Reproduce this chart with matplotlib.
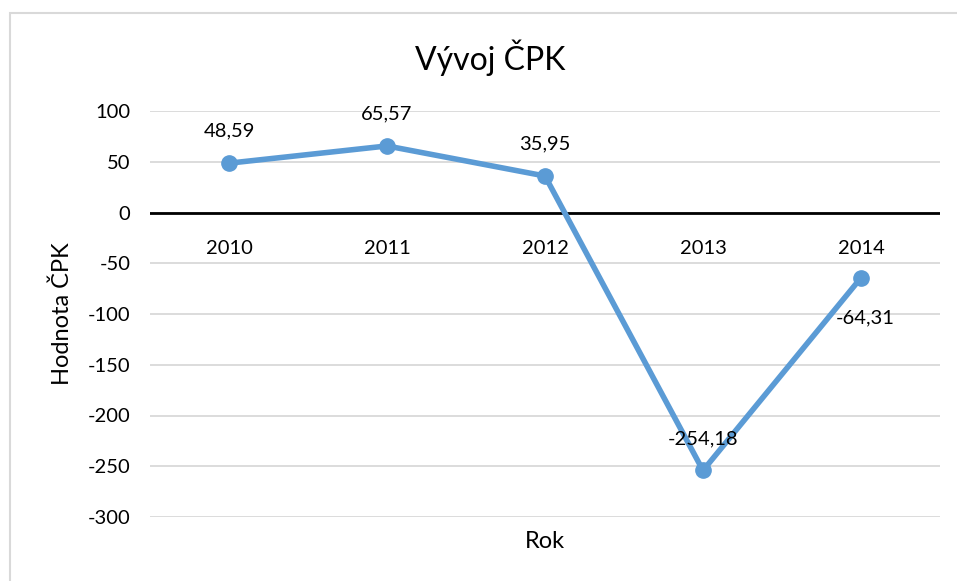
import matplotlib.pyplot as plt
from matplotlib.patches import Rectangle

# data
roky = ["2010", "2011", "2012", "2013", "2014"]
cpk = [48.59, 65.57, 35.95, -254.18, -64.31]
popisky = ["48,59", "65,57", "35,95", "-254,18", "-64,31"]
yticks = [100, 50, 0, -50, -100, -150, -200, -250, -300]

plt.rcParams["font.family"] = ["Lato", "DejaVu Sans"]

fig = plt.figure(figsize=(9.57, 5.81), dpi=100)
W, H = 957, 581
ax = fig.add_axes([150 / W, 1 - 517 / H, 790 / W, 406 / H])

# chart border
fig.patches.append(Rectangle((10 / W, -0.1), 1.1, 1 - 13 / H + 0.1,
                             transform=fig.transFigure, fill=False,
                             edgecolor="#d9d9d9", linewidth=1.5))

x = list(range(len(roky)))
ax.plot(x, cpk, color="#5b9bd5", linewidth=4, marker="o", markersize=11,
        zorder=3)

ax.set_xlim(-0.5, len(roky) - 0.5)
ax.set_ylim(-300, 100)
ax.set_yticks(yticks)
ax.set_yticklabels([str(v) for v in yticks], fontsize=14.5)
ax.tick_params(axis="y", length=0, pad=14)
ax.set_xticks([])
ax.grid(axis="y", color="#d9d9d9", linewidth=1.3)
ax.set_axisbelow(True)
for s in ax.spines.values():
    s.set_visible(False)
ax.axhline(0, color="black", linewidth=2, zorder=2)

# category labels under the zero line
for i, r in enumerate(roky):
    ax.annotate(r, (i, 0), xytext=(0, -32), textcoords="offset points",
                ha="center", va="bottom", fontsize=14.5)

# data labels
for i, (v, t) in enumerate(zip(cpk, popisky)):
    if i == 4:
        ax.annotate(t, (i, v), xytext=(3, -29), textcoords="offset points",
                    ha="center", va="center", fontsize=14.5)
    else:
        ax.annotate(t, (i, v), xytext=(0, 17), textcoords="offset points",
                    ha="center", va="bottom", fontsize=14.5)

fig.text(490 / W, 1 - 58 / H, "Vývoj ČPK", ha="center", va="center",
         fontsize=23)
fig.text(62 / W, 1 - 314 / H, "Hodnota ČPK", ha="center", va="center",
         rotation=90, fontsize=17)
fig.text(545 / W, 1 - 541 / H, "Rok", ha="center", va="center",
         fontsize=17)

fig.savefig("out.png", dpi=100)
